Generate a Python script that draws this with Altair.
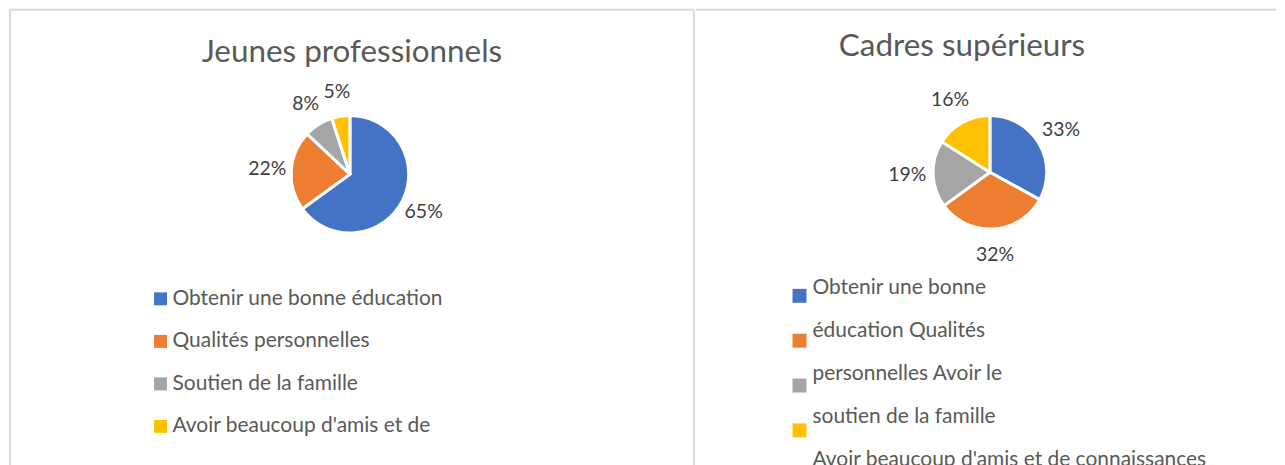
import altair as alt
import pandas as pd

# ---- data ----
categories = [
    "Obtenir une bonne éducation",
    "Qualités personnelles",
    "Soutien de la famille",
    "Avoir beaucoup d'amis et de connaissances",
]
jeunes_values = [65, 22, 8, 5]
cadres_values = [33, 32, 19, 16]
left_legend_labels = [
    "Obtenir une bonne éducation",
    "Qualités personnelles",
    "Soutien de la famille",
    "Avoir beaucoup d'amis et de",
]
right_legend_lines = [
    "Obtenir une bonne",
    "éducation Qualités",
    "personnelles Avoir le",
    "soutien de la famille",
    "Avoir beaucoup d'amis et de connaissances",
]
colors = ["#4472C4", "#ED7D31", "#A5A5A5", "#FFC000"]
titles = ["Jeunes professionnels", "Cadres supérieurs"]

FONT = "Lato"
TITLE_COLOR = "#595959"
LABEL_COLOR = "#404040"
BORDER = "#d9d9d9"

LW, RW, H = 687, 582, 470

color_scale = alt.Scale(domain=categories, range=colors)
one = pd.DataFrame({"a": [0]})


def make_df(values):
    return pd.DataFrame({
        "cat": categories,
        "idx": list(range(len(categories))),
        "value": values,
        "pct": [f"{v}%" for v in values],
        "legend": left_legend_labels,
    })


def pie(df, cx, cy, r, label_r):
    base = alt.Chart(df).encode(
        theta=alt.Theta("value:Q", stack=True),
        order=alt.Order("idx:Q"),
        x=alt.value(cx),
        y=alt.value(cy),
    )
    arc = base.mark_arc(radius=r, stroke="white", strokeWidth=3).encode(
        color=alt.Color("cat:N", scale=color_scale, legend=None)
    )
    txt = base.mark_text(radius=label_r, font=FONT, fontSize=19.5, color=LABEL_COLOR).encode(
        text="pct:N", detail="cat:N"
    )
    return arc, txt


def title_mark(text, cx, cy):
    return alt.Chart(pd.DataFrame({"t": [text]})).mark_text(
        font=FONT, fontSize=31.5, color=TITLE_COLOR, baseline="alphabetic", align="center"
    ).encode(text="t:N", x=alt.value(cx), y=alt.value(cy))


def vline(x):
    return alt.Chart(one).mark_rule(color=BORDER, strokeWidth=2).encode(
        x=alt.value(x), y=alt.value(0), y2=alt.value(H)
    )


def hline(x1, x2):
    return alt.Chart(one).mark_rule(color=BORDER, strokeWidth=2).encode(
        x=alt.value(x1), x2=alt.value(x2), y=alt.value(0)
    )


# ---- left panel ----
ldf = make_df(jeunes_values)
l_arc, l_txt = pie(ldf, 342, 165, 59, 83)
l_title = title_mark(titles[0], 344, 52)
l_y = alt.Y("cat:N", axis=None,
            scale=alt.Scale(type="point", domain=categories, range=[290, 418], padding=0))
l_sq = alt.Chart(ldf).mark_square(size=169, opacity=1).encode(
    x=alt.value(152), y=l_y,
    color=alt.Color("cat:N", scale=color_scale, legend=None),
)
l_leg = alt.Chart(ldf).mark_text(
    align="left", baseline="middle", font=FONT, fontSize=21, color=TITLE_COLOR
).encode(x=alt.value(164), y=l_y, text="legend:N")

left = alt.layer(
    vline(1), vline(LW), hline(0, LW), l_arc, l_txt, l_title, l_sq, l_leg
).properties(width=LW, height=H)

# ---- right panel ----
rdf = make_df(cadres_values)
r_arc, r_txt = pie(rdf, 295, 163, 57, 83)
r_title = title_mark(titles[1], 267, 46)
r_sq = alt.Chart(rdf).mark_square(size=196, opacity=1).encode(
    x=alt.value(104),
    y=alt.Y("cat:N", axis=None,
            scale=alt.Scale(type="point", domain=categories, range=[287, 422], padding=0)),
    color=alt.Color("cat:N", scale=color_scale, legend=None),
)
lines_df = pd.DataFrame({"line": right_legend_lines})
r_leg = alt.Chart(lines_df).mark_text(
    align="left", baseline="alphabetic", font=FONT, fontSize=21, color=TITLE_COLOR
).encode(
    x=alt.value(117),
    y=alt.Y("line:N", axis=None,
            scale=alt.Scale(type="point", domain=right_legend_lines, range=[285, 458], padding=0)),
    text="line:N",
)
right = alt.layer(
    hline(0, RW), r_arc, r_txt, r_title, r_sq, r_leg
).resolve_scale(y="independent").properties(width=RW, height=H)

chart = alt.hconcat(left, right, spacing=0).properties(padding=0).configure_view(stroke=None)

chart.save("out.html", embed_options={"renderer": "svg", "actions": False})
